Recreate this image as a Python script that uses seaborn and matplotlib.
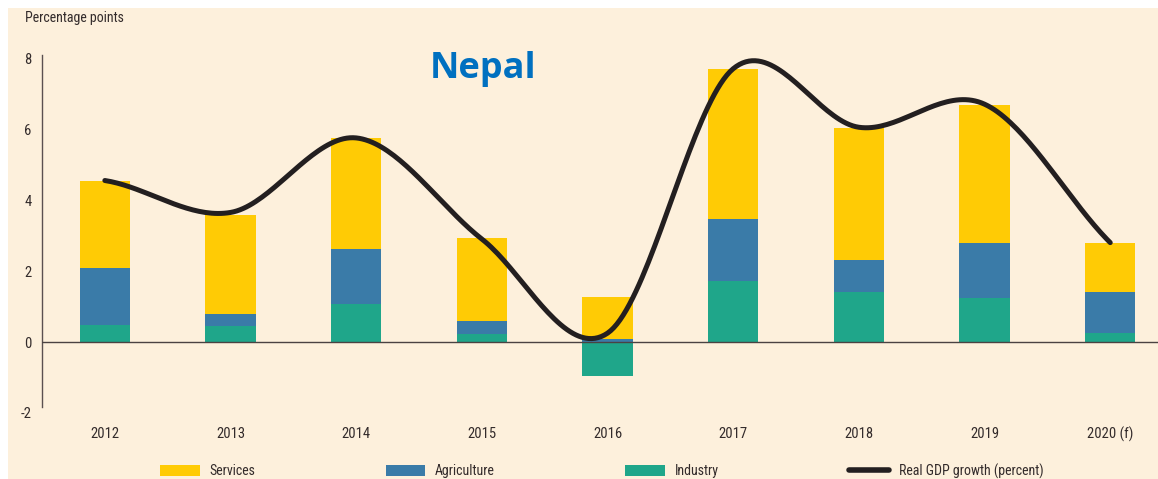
import numpy as np
import pandas as pd
import matplotlib
matplotlib.use("Agg")
import matplotlib.pyplot as plt
from matplotlib.patches import Patch, Rectangle
from matplotlib.lines import Line2D
import seaborn as sns

# Contributions to growth, percentage points
years = ["2012", "2013", "2014", "2015", "2016", "2017", "2018", "2019", "2020 (f)"]
services = [2.45, 2.81, 3.14, 2.33, 1.19, 4.22, 3.74, 3.87, 1.39]
agriculture = [1.59, 0.33, 1.55, 0.37, 0.08, 1.73, 0.90, 1.56, 1.14]
industry = [0.49, 0.45, 1.06, 0.23, -0.95, 1.73, 1.40, 1.24, 0.26]
gdp_growth = [4.55, 3.65, 5.75, 2.90, 0.25, 7.70, 6.05, 6.70, 2.80]
y_ticks = [-2, 0, 2, 4, 6, 8]

C_SERV = "#FFCB05"
C_AGRI = "#3A7BA8"
C_IND = "#1FA68A"
C_LINE = "#231F20"
BG = "#FDF0DC"
TXT = "#332B2B"

sns.set_theme(style="white")
plt.rcParams["font.family"] = ["Roboto Condensed", "DejaVu Sans"]
plt.rcParams["font.stretch"] = "condensed"

df = pd.DataFrame({"year": years, "services": services,
                   "agriculture": agriculture, "industry": industry})
ind_pos = df["industry"].clip(lower=0)
# stacked layers: positives stack upward from zero, negatives hang below
df["top_services"] = ind_pos + df["agriculture"] + df["services"]
df["top_agri"] = ind_pos + df["agriculture"]

fig = plt.figure(figsize=(11.58, 4.79), dpi=100, facecolor="white")
fig.patches.append(Rectangle((8 / 1158, 0), 1, 1 - 8 / 479,
                             transform=fig.transFigure, facecolor=BG,
                             edgecolor="none", zorder=-10))
ax = fig.add_axes([42 / 1158, 1 - 413 / 479, 1 - 42 / 1158, (413 - 54.5) / 479])
ax.set_facecolor("none")

for col, colr in [("top_services", C_SERV), ("top_agri", C_AGRI), ("industry", C_IND)]:
    sns.barplot(data=df, x="year", y=col, color=colr, width=0.4,
                saturation=1, edgecolor="none", linewidth=0, ax=ax, zorder=2)


def smooth_curve(vals, n=40):
    """Cardinal (Catmull-Rom) spline through the data points."""
    y = np.asarray(vals, float)
    k = len(y)
    m = np.empty(k)
    m[1:-1] = (y[2:] - y[:-2]) / 2
    m[0] = (y[1] - y[0]) * 0.6
    m[-1] = (y[-1] - y[-2]) * 0.9
    xs, ys = [], []
    for i in range(k - 1):
        t = np.linspace(0, 1, n, endpoint=(i == k - 2))
        h00 = 2 * t**3 - 3 * t**2 + 1
        h10 = t**3 - 2 * t**2 + t
        h01 = -2 * t**3 + 3 * t**2
        h11 = t**3 - t**2
        xs.append(i + t)
        ys.append(h00 * y[i] + h10 * m[i] + h01 * y[i + 1] + h11 * m[i + 1])
    return np.concatenate(xs), np.concatenate(ys)


cx, cy = smooth_curve(gdp_growth)
ax.plot(cx, cy, color=C_LINE, lw=3.6, solid_capstyle="round", zorder=4)

ax.axhline(0, color="#4A4242", lw=1.0, zorder=3)

ax.set_xlim(-0.5, 8.38)
ax.set_ylim(-2, 8.1)
ax.set_yticks(y_ticks)
ax.set_yticklabels([str(v) for v in y_ticks])
ax.set_xlabel("")
ax.set_ylabel("")
for s in ["top", "right", "bottom"]:
    ax.spines[s].set_visible(False)
ax.spines["left"].set_color("#5A5050")
ax.spines["left"].set_linewidth(1.0)
ax.spines["left"].set_bounds(-1.83, 8.1)
ax.tick_params(axis="both", length=0, labelsize=10.5, colors=TXT)
ax.tick_params(axis="x", pad=10)
ax.tick_params(axis="y", pad=7.5)
ax.grid(False)

fig.text(25 / 1158, 1 - 18 / 479, "Percentage points", fontsize=10,
         color=TXT, ha="left", va="center")
fig.text(483 / 1158, 1 - 69 / 479, "Nepal", fontsize=26, fontweight="bold",
         color="#0070C0", ha="center", va="center",
         family=["Open Sans", "DejaVu Sans"], fontstretch="normal")

handles = [Patch(facecolor=C_SERV, edgecolor="none"),
           Patch(facecolor=C_AGRI, edgecolor="none"),
           Patch(facecolor=C_IND, edgecolor="none"),
           Line2D([0], [0], color=C_LINE, lw=4, solid_capstyle="round")]
labels = ["Services", "Agriculture", "Industry", "Real GDP growth (percent)"]
leg = fig.legend(handles, labels, loc="center left", ncol=4, frameon=False,
                 bbox_to_anchor=(160 / 1158, 1 - 471 / 479), fontsize=10,
                 handlelength=2.85, handleheight=0.9, handletextpad=0.7,
                 columnspacing=9.4, borderaxespad=0, borderpad=0)
for t in leg.get_texts():
    t.set_color(TXT)

fig.savefig("out.png", dpi=100, facecolor=fig.get_facecolor())
